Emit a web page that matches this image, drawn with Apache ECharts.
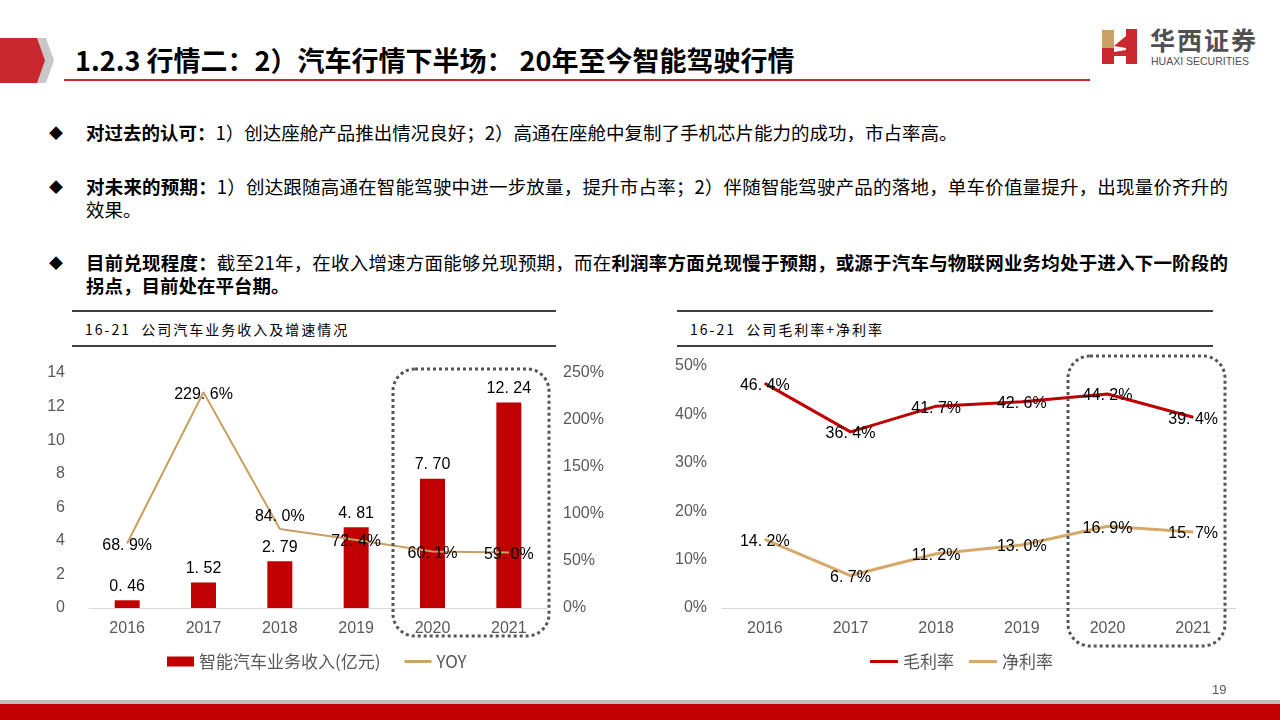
<!DOCTYPE html>
<html><head><meta charset="utf-8">
<script src="https://cdn.jsdelivr.net/npm/echarts@6/dist/echarts.min.js"></script>
<style>
html,body{margin:0;padding:0;background:#fff;}
#page{position:relative;width:1280px;height:720px;overflow:hidden;background:#fff;font-family:"Noto Sans CJK SC","Noto Sans",sans-serif;text-spacing-trim:space-all;}
.abs{position:absolute;}
.bl{position:absolute;left:86px;width:1142px;font-size:18.5px;line-height:23px;color:#000;white-space:nowrap;}
.bl.j{text-align:justify;text-align-last:justify;white-space:normal;}
.dia{position:absolute;left:49px;font-size:14px;line-height:23px;color:#000;}
.rule{position:absolute;height:2px;background:#404040;}
.ctitle{position:absolute;font-size:14px;color:#000;line-height:20px;letter-spacing:2px;white-space:nowrap;}
b{font-weight:700;}
</style></head>
<body>
<div id="page">
  <svg class="abs" style="left:0;top:0" width="70" height="100">
    <polygon points="34,38 46,38 54,60.5 46,83 34,83 42,60.5" fill="#C8C8C8"/>
    <polygon points="0,38 37,38 45,60.5 37,83 0,83" fill="#C8282E"/>
  </svg>
  <div class="abs" style="left:75px;top:42px;font-size:27px;font-weight:700;color:#000;line-height:36px;white-space:nowrap;">1.2.3 行情二：2）汽车行情下半场： 20年至今智能驾驶行情</div>
  <div class="abs" style="left:64px;top:79px;width:1026px;height:2px;background:#C8282E;"></div>

  <svg class="abs" style="left:1100px;top:26px" width="40" height="42">
    <polygon points="2,4 14,4 14,22 2,22" fill="#C9A063"/>
    <polygon points="2,22 14,22 14,38 2,38" fill="#C8282E"/>
    <polygon points="14,20 26,10 26,22" fill="#C8282E"/>
    <polygon points="26,3 37,3 37,38 26,38" fill="#C8282E"/>
    <polygon points="14,26 26,24 26,30 14,30" fill="#C8282E"/>
  </svg>
  <div class="abs" style="left:1150px;top:24px;font-size:25px;font-weight:700;color:#505050;letter-spacing:2px;line-height:30px;white-space:nowrap;">华西证券</div>
  <div class="abs" style="left:1151px;top:55px;font-size:10.5px;color:#505050;font-family:'Liberation Sans',Arial,sans-serif;line-height:12px;white-space:nowrap;">HUAXI SECURITIES</div>

  <div class="dia" style="top:121px;">◆</div>
  <div class="bl" style="top:121px;"><b>对过去的认可：</b>1）创达座舱产品推出情况良好；2）高通在座舱中复制了手机芯片能力的成功，市占率高。</div>
  <div class="dia" style="top:175px;">◆</div>
  <div class="bl j" style="top:175px;"><b>对未来的预期：</b>1）创达跟随高通在智能驾驶中进一步放量，提升市占率；2）伴随智能驾驶产品的落地，单车价值量提升，出现量价齐升的</div>
  <div class="bl" style="top:198px;">效果。</div>
  <div class="dia" style="top:251px;">◆</div>
  <div class="bl j" style="top:251px;"><b>目前兑现程度：</b>截至21年，在收入增速方面能够兑现预期，而在<b>利润率方面兑现慢于预期，或源于汽车与物联网业务均处于进入下一阶段的</b></div>
  <div class="bl" style="top:274px;"><b>拐点，目前处在平台期。</b></div>

  <div class="rule" style="left:72px;top:310px;width:484px;"></div>
  <div class="ctitle" style="left:85px;top:319px;">16-21&nbsp; 公司汽车业务收入及增速情况</div>
  <div class="rule" style="left:72px;top:345px;width:484px;"></div>

  <div class="rule" style="left:677px;top:310px;width:536px;"></div>
  <div class="ctitle" style="left:690px;top:319px;">16-21&nbsp; 公司毛利率+净利率</div>
  <div class="rule" style="left:677px;top:345px;width:536px;"></div>

  <div id="chart" class="abs" style="left:0;top:0;width:1280px;height:720px;"></div>

  <div class="abs" style="left:1212px;top:682px;font-size:13px;color:#595959;font-family:'Liberation Sans',Arial,sans-serif;">19</div>
  <div class="abs" style="left:0;top:700px;width:1280px;height:4px;background:#BFBFBF;"></div>
  <div class="abs" style="left:0;top:704px;width:1280px;height:16px;background:#C00000;"></div>
</div>
<script>
const years = ['2016', '2017', '2018', '2019', '2020', '2021'];
const revenue = [0.46, 1.52, 2.79, 4.81, 7.70, 12.24];
const yoy = [68.9, 229.6, 84.0, 72.4, 60.1, 59.0];
const grossMargin = [46.4, 36.4, 41.7, 42.6, 44.2, 39.4];
const netMargin = [14.2, 6.7, 11.2, 13.0, 16.9, 15.7];
const revenueName = '智能汽车业务收入(亿元)';
const yoyName = 'YOY';
const grossName = '毛利率';
const netName = '净利率';

const AX = "'Liberation Sans', Arial, sans-serif";
const axisLabel = {color: '#595959', fontSize: 16, fontFamily: AX};
const fmtNum = v => v.toFixed(2).replace('.', '. ');
const fmtPct = v => v.toFixed(1).replace('.', '. ') + '%';
const lineIcon = 'path://M0,0 H28 V3 H0 Z';
const legendText = {color: '#595959', fontSize: 17, fontFamily: "'Noto Sans CJK SC'"};

const chart = echarts.init(document.getElementById('chart'), null, {renderer: 'canvas'});
chart.setOption({
  backgroundColor: 'transparent',
  animation: false,
  grid: [
    {left: 89, right: 733, top: 373, bottom: 112, containLabel: false},
    {left: 722, right: 44, top: 366, bottom: 112, containLabel: false}
  ],
  legend: [
    {left: 162, top: 648, itemWidth: 27, itemHeight: 10, itemGap: 24, textStyle: legendText,
     data: [{name: revenueName, icon: 'rect'}, {name: yoyName, icon: lineIcon}]},
    {left: 865, top: 648, itemWidth: 28, itemHeight: 10, itemGap: 15, textStyle: legendText,
     data: [{name: grossName, icon: lineIcon}, {name: netName, icon: lineIcon}]}
  ],
  xAxis: [
    {type: 'category', gridIndex: 0, data: years, axisTick: {show: false},
     axisLine: {lineStyle: {color: '#D9D9D9', width: 1}}, axisLabel: Object.assign({margin: 13}, axisLabel)},
    {type: 'category', gridIndex: 1, data: years, axisTick: {show: false},
     axisLine: {lineStyle: {color: '#D9D9D9', width: 1}}, axisLabel: Object.assign({margin: 13}, axisLabel)}
  ],
  yAxis: [
    {type: 'value', gridIndex: 0, min: 0, max: 14, interval: 2, splitLine: {show: false},
     axisLine: {show: false}, axisTick: {show: false}, axisLabel: Object.assign({margin: 24}, axisLabel)},
    {type: 'value', gridIndex: 0, min: 0, max: 250, interval: 50, position: 'right', splitLine: {show: false},
     axisLine: {show: false}, axisTick: {show: false},
     axisLabel: Object.assign({margin: 16, formatter: '{value}%'}, axisLabel)},
    {type: 'value', gridIndex: 1, min: 0, max: 50, interval: 10, splitLine: {show: false},
     axisLine: {show: false}, axisTick: {show: false},
     axisLabel: Object.assign({margin: 15, formatter: '{value}%'}, axisLabel)}
  ],
  series: [
    {name: revenueName, type: 'bar', xAxisIndex: 0, yAxisIndex: 0, data: revenue, barWidth: 25,
     itemStyle: {color: '#C00000'},
     label: {show: true, position: 'top', distance: 6, color: '#000', fontSize: 16, fontFamily: AX,
       formatter: p => fmtNum(p.value)}},
    {name: yoyName, type: 'line', xAxisIndex: 0, yAxisIndex: 1,
     data: yoy.map((v, i) => i === 2 ? {value: v, label: {position: 'top', distance: 6}} : v),
     symbol: 'circle', symbolSize: 1, showSymbol: true,
     lineStyle: {color: '#C9A063', width: 2}, itemStyle: {color: '#C9A063'},
     label: {show: true, position: 'inside', offset: [0, 2], color: '#000', fontSize: 16, fontFamily: AX,
       formatter: p => fmtPct(p.value)}, z: 3},
    {name: grossName, type: 'line', xAxisIndex: 1, yAxisIndex: 2, data: grossMargin,
     symbol: 'circle', symbolSize: 1,
     lineStyle: {color: '#C00000', width: 3}, itemStyle: {color: '#C00000'},
     label: {show: true, position: 'inside', offset: [0, 2], color: '#000', fontSize: 16, fontFamily: AX,
       formatter: p => fmtPct(p.value)}},
    {name: netName, type: 'line', xAxisIndex: 1, yAxisIndex: 2, data: netMargin,
     symbol: 'circle', symbolSize: 1,
     lineStyle: {color: '#D4A96A', width: 3}, itemStyle: {color: '#D4A96A'},
     label: {show: true, position: 'inside', offset: [0, 2], color: '#000', fontSize: 16, fontFamily: AX,
       formatter: p => fmtPct(p.value)}}
  ],
  graphic: [
    {type: 'rect', shape: {x: 393, y: 369, width: 156, height: 267, r: 22}, z: 100,
     style: {fill: 'none', stroke: '#555', lineWidth: 3, lineDash: [3, 3]}},
    {type: 'rect', shape: {x: 1068, y: 356, width: 157, height: 290, r: 22}, z: 100,
     style: {fill: 'none', stroke: '#555', lineWidth: 3, lineDash: [3, 3]}}
  ]
});
</script>
</body></html>
